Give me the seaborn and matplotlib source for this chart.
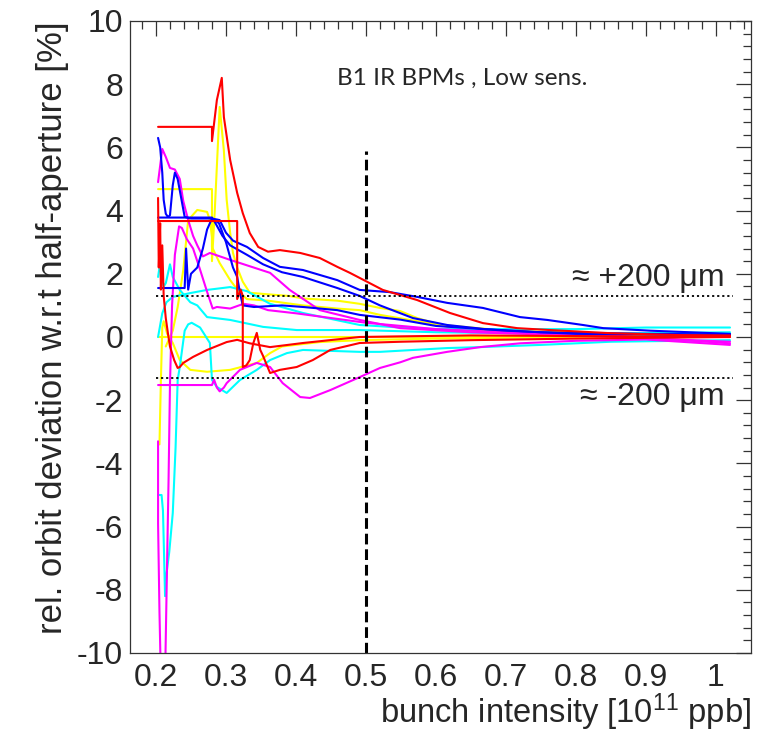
import numpy as np
import pandas as pd
import matplotlib
matplotlib.use("Agg")
import matplotlib.pyplot as plt
import seaborn as sns

# ---------------- data ----------------
red_peak_x = [0.203, 0.28, 0.28, 0.287, 0.294, 0.297, 0.306, 0.316, 0.324, 0.334, 0.346, 0.36, 0.377, 0.406, 0.434, 0.459, 0.477, 0.524, 0.573, 0.62, 0.667, 0.716, 0.763, 0.85, 0.95, 1.02]
red_peak_y = [6.65, 6.65, 6.2, 7.5, 8.2, 6.96, 5.6, 4.56, 3.92, 3.29, 2.85, 2.7, 2.75, 2.66, 2.5, 2.22, 2.03, 1.49, 1.17, 0.76, 0.44, 0.28, 0.22, 0.12, 0.06, 0.05]

red_box_x = [0.203, 0.316, 0.316, 0.321, 0.324, 0.324, 0.329, 0.334, 0.339, 0.344, 0.349, 0.353, 0.363, 0.377, 0.401, 0.424, 0.449, 0.491, 0.55, 0.65, 0.8, 1.02]
red_box_y = [3.67, 3.67, 1.2, 1.5, 1.3, -0.95, -0.9, -0.73, -0.2, 0.13, -0.41, -0.6, -1.14, -1.04, -0.95, -0.73, -0.41, -0.19, -0.15, -0.1, -0.05, 0.0]

red_left_x = [0.203, 0.204, 0.206, 0.207, 0.209, 0.211, 0.214, 0.217, 0.22, 0.226, 0.231, 0.234, 0.239, 0.253, 0.273, 0.301, 0.316, 0.334, 0.363, 0.41, 0.491, 0.55, 0.65, 0.8, 1.02]
red_left_y = [4.4, 2.2, 3.6, 1.5, 2.9, 1.3, 0.6, 0.13, -0.3, -0.73, -0.98, -0.95, -0.82, -0.63, -0.41, -0.16, -0.09, -0.2, -0.32, -0.19, 0.0, 0.02, 0.05, 0.03, 0.0]

blue_1_x = [0.203, 0.206, 0.209, 0.211, 0.214, 0.217, 0.22, 0.224, 0.227, 0.231, 0.236, 0.241, 0.25, 0.28, 0.291, 0.3, 0.31, 0.33, 0.353, 0.377, 0.41, 0.459, 0.491, 0.534, 0.573, 0.616, 0.667, 0.72, 0.759, 0.81, 0.839, 0.906, 1.02]
blue_1_y = [6.3, 6.0, 5.2, 4.34, 3.9, 3.8, 3.85, 4.8, 5.2, 5.0, 4.4, 3.8, 3.75, 3.75, 3.7, 3.3, 3.05, 2.85, 2.5, 2.22, 2.12, 1.8, 1.49, 1.42, 1.27, 1.08, 0.92, 0.63, 0.54, 0.38, 0.28, 0.2, 0.1]

blue_2_x = [0.203, 0.28, 0.285, 0.295, 0.306, 0.33, 0.353, 0.38, 0.41, 0.459, 0.491, 0.52, 0.567, 0.616, 0.67, 0.75, 0.9, 1.02]
blue_2_y = [3.78, 3.78, 3.6, 3.2, 2.9, 2.6, 2.3, 2.05, 1.9, 1.55, 1.3, 1.0, 0.6, 0.38, 0.25, 0.15, 0.1, 0.08]

blue_3_x = [0.203, 0.241, 0.243, 0.246, 0.25, 0.259, 0.267, 0.273, 0.28, 0.29, 0.3, 0.31, 0.316, 0.32, 0.324, 0.34, 0.38, 0.41, 0.459, 0.491, 0.549, 0.6, 0.7, 0.8, 1.02]
blue_3_y = [1.55, 1.55, 2.8, 1.5, 2.0, 2.2, 2.8, 3.4, 3.75, 3.6, 3.0, 2.2, 1.9, 1.4, 1.0, 0.95, 1.0, 0.95, 0.85, 0.7, 0.55, 0.35, 0.2, 0.1, 0.05]

mag_1_x = [0.203, 0.209, 0.214, 0.22, 0.227, 0.234, 0.239, 0.246, 0.253, 0.259, 0.267, 0.277, 0.306, 0.32, 0.363, 0.391, 0.434, 0.491, 0.549, 0.65, 0.8, 1.02]
mag_1_y = [4.9, 5.95, 5.7, 5.35, 5.3, 5.0, 4.3, 3.7, 3.2, 2.9, 2.55, 2.66, 2.44, 2.34, 2.03, 1.49, 0.85, 0.54, 0.28, 0.15, 0.05, -0.15]

mag_2_x = [0.203, 0.203, 0.205, 0.207, 0.213, 0.216, 0.218, 0.22, 0.223, 0.227, 0.233, 0.237, 0.244, 0.253, 0.262, 0.272, 0.281, 0.287, 0.306, 0.325, 0.34, 0.36, 0.4, 0.45, 0.5, 0.55, 0.6, 0.7, 0.85, 1.02]
mag_2_y = [-3.3, -5.9, -8.7, -10.8, -10.8, -7.0, -4.5, -1.5, 1.0, 2.6, 3.5, 3.45, 3.1, 2.8, 2.2, 1.5, 0.9, 0.95, 0.9, 1.05, 1.0, 0.85, 0.75, 0.6, 0.45, 0.35, 0.25, 0.15, 0.05, -0.2]

mag_3_x = [0.203, 0.28, 0.283, 0.287, 0.291, 0.297, 0.301, 0.32, 0.344, 0.363, 0.381, 0.406, 0.42, 0.449, 0.491, 0.52, 0.549, 0.567, 0.616, 0.663, 0.72, 0.8, 0.9, 1.02]
mag_3_y = [-1.52, -1.52, -1.35, -1.6, -1.72, -1.6, -1.46, -1.04, -0.82, -0.95, -1.46, -1.9, -1.93, -1.68, -1.27, -0.98, -0.8, -0.66, -0.47, -0.32, -0.2, -0.12, -0.08, -0.25]

cyan_1_x = [0.203, 0.209, 0.215, 0.224, 0.249, 0.273, 0.306, 0.33, 0.363, 0.41, 0.491, 0.55, 0.6, 0.7, 0.8, 0.9, 1.02]
cyan_1_y = [0.0, 0.75, 1.1, 1.27, 1.39, 1.49, 1.58, 1.45, 1.05, 0.76, 0.38, 0.3, 0.25, 0.25, 0.25, 0.3, 0.3]

cyan_2_x = [0.203, 0.205, 0.208, 0.211, 0.214, 0.22, 0.224, 0.234, 0.249, 0.259, 0.273, 0.306, 0.353, 0.401, 0.491, 0.6, 0.8, 1.02]
cyan_2_y = [1.9, 2.2, 2.0, 1.6, 1.7, 2.3, 1.9, 1.49, 1.1, 1.0, 0.63, 0.54, 0.32, 0.22, 0.22, 0.15, 0.1, 0.15]

cyan_3_x = [0.203, 0.208, 0.21, 0.213, 0.215, 0.219, 0.224, 0.228, 0.231, 0.234, 0.241, 0.246, 0.251, 0.263, 0.277, 0.28, 0.287, 0.301, 0.32, 0.344, 0.363, 0.387, 0.41, 0.491, 0.52, 0.616, 0.663, 0.75, 0.85, 1.02]
cyan_3_y = [-5.0, -5.0, -5.5, -8.2, -7.5, -6.8, -5.57, -3.5, -1.36, -0.95, 0.2, 0.4, 0.45, 0.3, -0.19, -1.36, -1.58, -1.77, -1.36, -1.04, -0.73, -0.51, -0.41, -0.47, -0.47, -0.35, -0.32, -0.25, -0.15, -0.1]

yel_peak_x = [0.203, 0.28, 0.28, 0.284, 0.291, 0.297, 0.301, 0.306, 0.31, 0.316, 0.324, 0.334, 0.36, 0.39, 0.41, 0.459, 0.491, 0.52, 0.549, 0.573, 0.616, 0.663, 0.75, 0.85, 1.02]
yel_peak_y = [4.68, 4.68, 2.4, 4.0, 7.28, 5.9, 4.34, 3.29, 2.66, 2.2, 1.75, 1.4, 1.35, 1.3, 1.22, 1.15, 1.05, 0.92, 0.82, 0.6, 0.32, 0.22, 0.15, 0.1, 0.1]

yel_bump_x = [0.214, 0.224, 0.231, 0.239, 0.246, 0.259, 0.273, 0.277, 0.28, 0.28, 0.291, 0.306, 0.32, 0.33, 0.36, 0.41, 0.459, 0.491, 0.52, 0.6, 0.7, 0.85, 1.02]
yel_bump_y = [-0.3, 0.2, 0.95, 2.12, 3.7, 4.02, 3.96, 3.7, 3.16, 2.85, 2.34, 1.8, 1.39, 1.2, 1.15, 1.0, 0.9, 0.85, 0.7, 0.4, 0.2, 0.1, 0.1]

yel_low_x = [0.205, 0.207, 0.209, 0.211, 0.216, 0.224, 0.234, 0.249, 0.273, 0.306, 0.344, 0.363, 0.38, 0.434, 0.491, 0.6, 0.8, 1.02]
yel_low_y = [-3.4, -1.4, 0.3, 0.5, 0.1, -0.19, -0.73, -1.04, -1.1, -1.04, -0.82, -0.51, -0.3, -0.16, -0.1, -0.05, 0.0, 0.05]

yel_zero_x = [0.203, 0.5, 0.7, 1.02]
yel_zero_y = [0.0, 0.0, 0.02, 0.05]

series = [
    ("yel_zero", "#ffff00", yel_zero_x, yel_zero_y),
    ("yel_low", "#ffff00", yel_low_x, yel_low_y),
    ("yel_bump", "#ffff00", yel_bump_x, yel_bump_y),
    ("yel_peak", "#ffff00", yel_peak_x, yel_peak_y),
    ("cyan_1", "#00ffff", cyan_1_x, cyan_1_y),
    ("cyan_2", "#00ffff", cyan_2_x, cyan_2_y),
    ("cyan_3", "#00ffff", cyan_3_x, cyan_3_y),
    ("mag_1", "#ff00ff", mag_1_x, mag_1_y),
    ("mag_2", "#ff00ff", mag_2_x, mag_2_y),
    ("mag_3", "#ff00ff", mag_3_x, mag_3_y),
    ("blue_1", "#0000ff", blue_1_x, blue_1_y),
    ("blue_2", "#0000ff", blue_2_x, blue_2_y),
    ("blue_3", "#0000ff", blue_3_x, blue_3_y),
    ("red_left", "#ff0000", red_left_x, red_left_y),
    ("red_box", "#ff0000", red_box_x, red_box_y),
    ("red_peak", "#ff0000", red_peak_x, red_peak_y),
]

x_ticks = [0.2, 0.3, 0.4, 0.5, 0.6, 0.7, 0.8, 0.9, 1.0]
x_tick_labels = ["0.2", "0.3", "0.4", "0.5", "0.6", "0.7", "0.8", "0.9", "1"]
y_ticks = [-10, -8, -6, -4, -2, 0, 2, 4, 6, 8, 10]
y_tick_labels = ["-10", "-8", "-6", "-4", "-2", "0", "2", "4", "6", "8", "10"]

ref_intensity = 0.5
ref_top = 5.9
band = 1.3
band_x = [0.2, 1.025]

# ---------------- plotting ----------------
sns.set_theme(style="white")
plt.rcParams["font.family"] = ["Liberation Sans", "DejaVu Sans"]
plt.rcParams["mathtext.fontset"] = "custom"
plt.rcParams["mathtext.rm"] = "Liberation Sans"
plt.rcParams["mathtext.it"] = "Liberation Sans"
plt.rcParams["axes.unicode_minus"] = False

rows = []
for name, col, xs, ys in series:
    for i, (xv, yv) in enumerate(zip(xs, ys)):
        rows.append({"series": name, "order": i, "x": xv, "y": yv})
df = pd.DataFrame(rows)
palette = {name: col for name, col, _, _ in series}

fig = plt.figure(figsize=(7.62, 7.33), dpi=100)
ax = fig.add_axes([130 / 762, 1 - 653 / 733, 621 / 762, 632 / 733])

sns.lineplot(data=df, x="x", y="y", hue="series", palette=palette,
             hue_order=[s[0] for s in series], sort=False, estimator=None,
             legend=False, linewidth=1.5, ax=ax)

# reference lines
ax.plot(band_x, [band, band], color="black", lw=1.3, dashes=(1.2, 1.6))
ax.plot(band_x, [-band, -band], color="black", lw=1.3, dashes=(1.2, 1.6))
ax.plot([ref_intensity, ref_intensity], [-10, ref_top], color="black", lw=2.2,
        dashes=(3.5, 1.6))

ax.set_xlim(0.1629, 1.05)
ax.set_ylim(-10, 10)
ax.set_xticks(x_ticks)
ax.set_xticklabels(x_tick_labels)
ax.set_yticks(y_ticks)
ax.set_yticklabels(y_tick_labels)
ax.set_xticks(np.round(np.arange(0.18, 1.05, 0.02), 3), minor=True)
ax.set_yticks(np.round(np.arange(-10, 10.01, 0.4), 3), minor=True)
ax.tick_params(axis="both", which="major", direction="in", length=11, width=0.9,
               top=True, right=True, labelsize=23, color="#333333", pad=5)
ax.tick_params(axis="both", which="minor", direction="in", length=5.5, width=0.9,
               top=True, right=True, color="#333333")
ax.tick_params(axis="x", which="major", pad=7)
for s in ax.spines.values():
    s.set_color("#333333")
    s.set_linewidth(0.9)

ax.set_xlabel(r"bunch intensity [10$^{11}$ ppb]", fontsize=23.5, loc="right", labelpad=-1)
ax.set_ylabel("rel. orbit deviation w.r.t half-aperture [%]", fontsize=25,
              loc="top", labelpad=6)

ax.text(0.459, 8.2, "B1 IR BPMs , Low sens.", fontsize=17.5, family=["Lato", "DejaVu Sans"],
        ha="left", va="center")
ax.text(1.013, 1.87, "≈ +200 μm", fontsize=23, ha="right", va="center")
ax.text(1.013, -1.9, "≈ -200 μm", fontsize=23, ha="right", va="center")

fig.savefig("out.png", dpi=100)
